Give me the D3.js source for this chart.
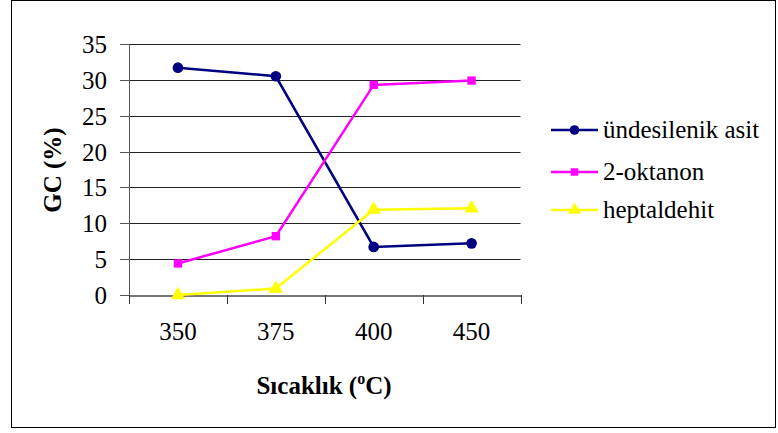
<!DOCTYPE html>
<html><head><meta charset="utf-8">
<script src="https://cdn.jsdelivr.net/npm/d3@7"></script>
<style>
@font-face{font-family:"RefSerif";font-weight:normal;src:local("Liberation Serif"),local("LiberationSerif"),local("LiberationSerif-Regular");}
@font-face{font-family:"RefSerif";font-weight:bold;src:local("Liberation Serif Bold"),local("LiberationSerif-Bold");}
</style>
</head><body style="margin:0">
<svg id="chart" width="778" height="433" style="display:block"></svg>
<script>
const categories = ["350","375","400","450"];
const undesilenik = [31.7, 30.5, 6.7, 7.2];
const oktanon = [4.4, 8.2, 29.3, 29.9];
const heptaldehit = [0, 0.9, 11.9, 12.1];
const yTicks = [0,5,10,15,20,25,30,35];
const seriesNames = ["ündesilenik asit","2-oktanon","heptaldehit"];
const seriesColors = ["#000080","#FF00FF","#FFFF00"];
const seriesShapes = [d3.symbolCircle, d3.symbolSquare, d3.symbolTriangle];
const seriesSizes = [90, 70, 90];
const series = [undesilenik, oktanon, heptaldehit];

const TS = "font-family:'Liberation Serif','RefSerif',serif;font-size:25px";
const TSB = TS + ";font-weight:bold";
const svg=d3.select("#chart");
svg.append("rect").attr("x",11.5).attr("y",0.5).attr("width",764).attr("height",427).attr("fill","#fff").attr("stroke","#000").attr("stroke-width",1);

const L=129,R=520.5,T=44,B=295;
const x=d3.scaleBand().domain(categories).range([L,R]).padding(0);
const y=d3.scaleLinear().domain([0,35]).range([B,T]);

svg.append("g").selectAll("line").data(yTicks.filter(d=>d>0)).join("line")
  .attr("x1",L).attr("x2",R).attr("y1",d=>Math.round(y(d))+0.5).attr("y2",d=>Math.round(y(d))+0.5)
  .attr("stroke","#222").attr("stroke-width",1);

const ya=svg.append("g").attr("transform",`translate(${L},0)`)
  .call(d3.axisLeft(y).tickValues(yTicks).tickSize(9).tickPadding(13).tickSizeOuter(0));
ya.attr("font-family",null).attr("font-size",null);
ya.select(".domain").attr("stroke","#555");
ya.selectAll(".tick line").attr("stroke","#555");
ya.selectAll("text").attr("style",TS).attr("fill","#000");
ya.selectAll(".tick").attr("transform",d=>`translate(0,${Math.round(y(d))+0.5})`);

const xa=svg.append("g").attr("transform",`translate(0,${B+0.5})`)
  .call(d3.axisBottom(x).tickSize(0).tickPadding(27));
xa.attr("font-family",null).attr("font-size",null);
xa.select(".domain").attr("stroke","#777").attr("stroke-width",2);
xa.selectAll("text").attr("style",TS).attr("fill","#000");
const edges=[L].concat(categories.map(c=>x(c)+x.bandwidth()));
svg.append("g").selectAll("line").data(edges).join("line")
  .attr("x1",d=>Math.round(d)+0.5).attr("x2",d=>Math.round(d)+0.5).attr("y1",B).attr("y2",B+9)
  .attr("stroke","#333");

const cx=c=>x(c)+x.bandwidth()/2;
series.forEach((vals,i)=>{
  const line=d3.line().x((d,j)=>cx(categories[j])).y(d=>y(d));
  svg.append("path").attr("d",line(vals)).attr("fill","none").attr("stroke",seriesColors[i]).attr("stroke-width",2.5);
  svg.append("g").selectAll("path").data(vals).join("path")
    .attr("d",d3.symbol().type(seriesShapes[i]).size(seriesSizes[i]))
    .attr("transform",(d,j)=>`translate(${cx(categories[j])},${y(d)})`)
    .attr("fill",seriesColors[i]);
});

const lg=svg.append("g");
const ly=[130,172,210];
seriesNames.forEach((n,i)=>{
  lg.append("line").attr("x1",551).attr("x2",598).attr("y1",ly[i]).attr("y2",ly[i]).attr("stroke",seriesColors[i]).attr("stroke-width",2.5);
  lg.append("path").attr("d",d3.symbol().type(seriesShapes[i]).size(seriesSizes[i]*0.8)).attr("transform",`translate(574.5,${ly[i]})`).attr("fill",seriesColors[i]);
  lg.append("text").attr("x",603).attr("y",ly[i]+8).attr("style",TS).text(n);
});

const xt=svg.append("text").attr("x",324).attr("y",394).attr("text-anchor","middle").attr("style",TSB);
xt.append("tspan").text("Sıcaklık (");
xt.append("tspan").attr("style","font-size:16px").attr("dy",-10).text("o");
xt.append("tspan").attr("dy",10).text("C)");
svg.append("text").attr("transform","translate(61,170) rotate(-90)").attr("text-anchor","middle").attr("style",TSB).text("GC (%)");
</script>
</body></html>
